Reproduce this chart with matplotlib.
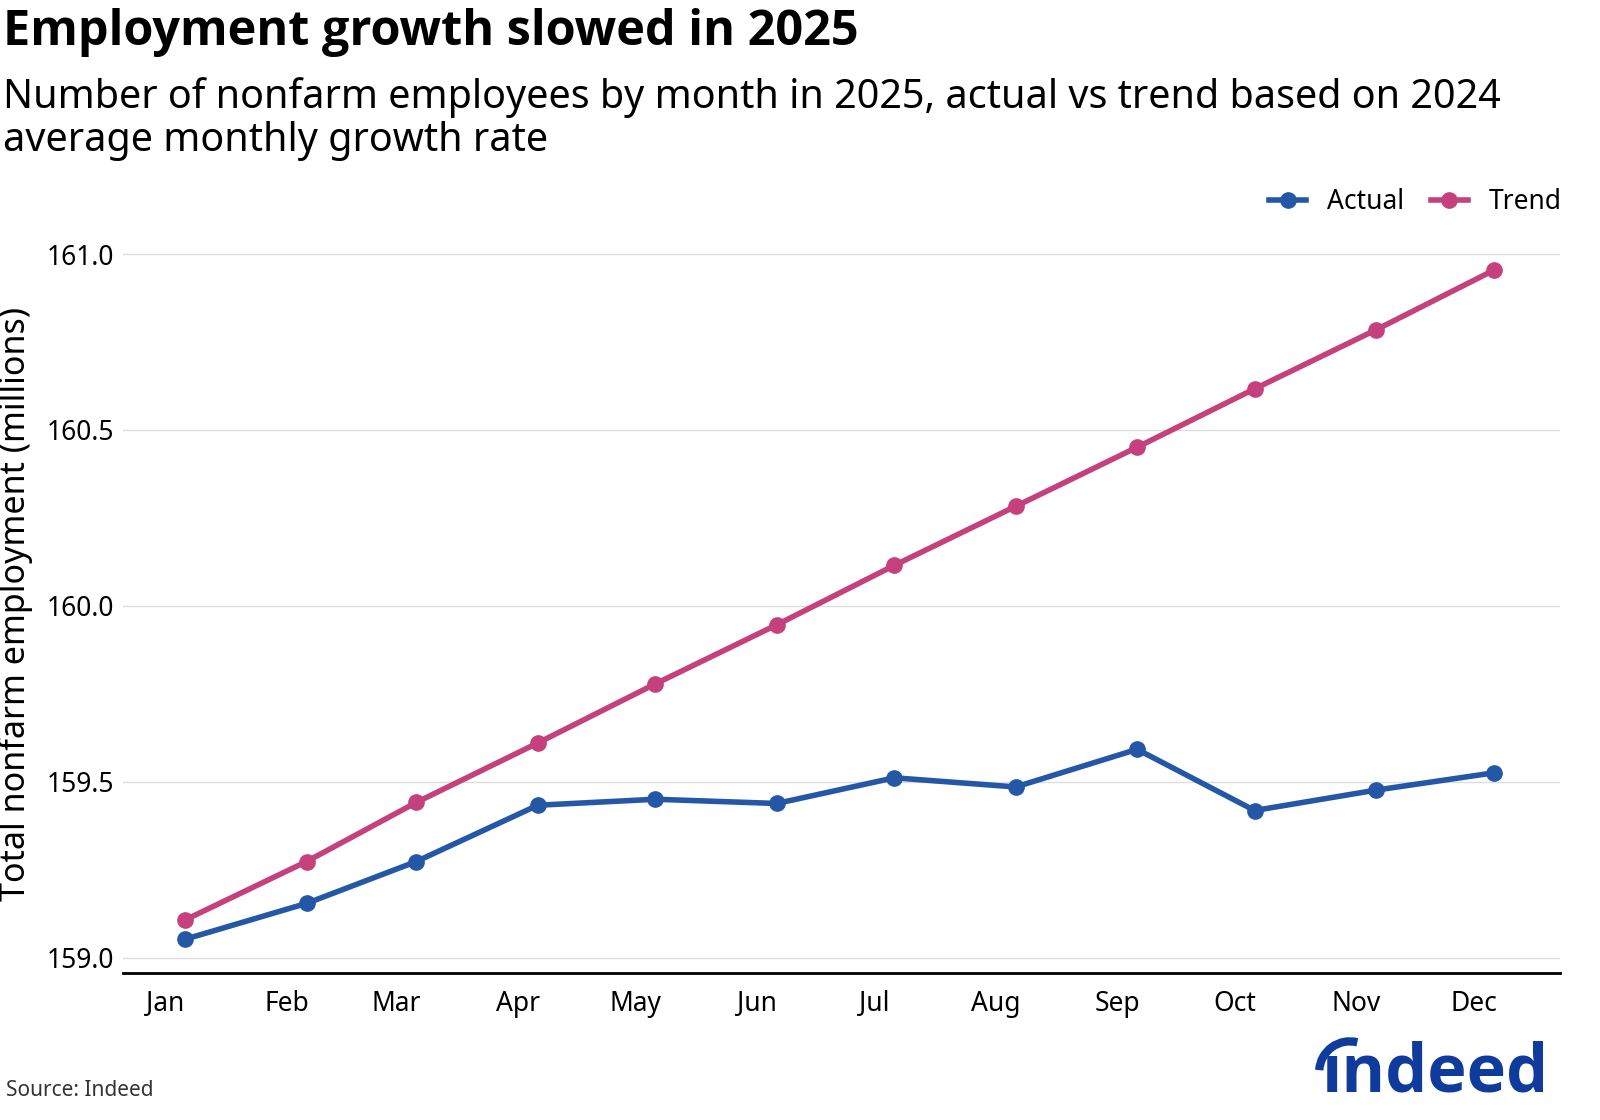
import matplotlib
matplotlib.use("Agg")
import matplotlib.pyplot as plt
import numpy as np
from matplotlib.patches import Arc

plt.rcParams['font.family'] = ['Noto Sans', 'DejaVu Sans']

months = ["Jan","Feb","Mar","Apr","May","Jun","Jul","Aug","Sep","Oct","Nov","Dec"]
actual = [159.052,159.154,159.273,159.433,159.450,159.438,159.511,159.485,159.592,159.418,159.476,159.525]
trend = [159.107,159.273,159.441,159.610,159.778,159.946,160.115,160.283,160.451,160.617,160.785,160.954]

pts = [np.datetime64(f"2025-{i:02d}-06") for i in range(1,13)]
ticks = [np.datetime64(f"2025-{i:02d}-01") for i in range(1,13)]

W, H = 1567, 1097
fig = plt.figure(figsize=(16,11.2), dpi=100)
ax = fig.add_axes([120/W, 1-953/H, (1528-120)/W, (953-230)/H])
blue = "#2557a7"; pink = "#c4417e"; logo = "#0f3c9c"
ax.plot(pts, actual, color=blue, lw=4, marker='o', ms=11, label="Actual")
ax.plot(pts, trend, color=pink, lw=4, marker='o', ms=11, label="Trend")
ax.set_xlim(np.datetime64("2024-12-21"), np.datetime64("2025-12-23"))
ax.set_ylim(158.956, 161.055)
yt = [159.0,159.5,160.0,160.5,161.0]
ax.set_yticks(yt)
ax.set_yticklabels([f"{v:.1f}" for v in yt])
ax.set_xticks(ticks)
ax.set_xticklabels(months)
ax.grid(axis='y', color='#dddddd', lw=1)
ax.set_axisbelow(True)
for s in ['top','right','left']:
    ax.spines[s].set_visible(False)
ax.spines['bottom'].set_linewidth(2)
ax.tick_params(axis='y', length=0, labelsize=19, pad=6)
ax.tick_params(axis='x', length=0, labelsize=19, pad=12)
ax.set_ylabel("Total nonfarm employment (millions)", fontsize=24.5)
ax.yaxis.set_label_coords(-0.062, 0.5)
ax.legend(loc='lower right', bbox_to_anchor=(1.014, 1.0), ncol=2, frameon=False,
          fontsize=19, handlelength=1.4, columnspacing=1.0, handletextpad=0.8, borderaxespad=0.3)

fig.text(0.002, 1-32/H, "Employment growth slowed in 2025", fontsize=35, family='Open Sans', fontweight='bold', va='center')
fig.text(0.002, 1-96/H, "Number of nonfarm employees by month in 2025, actual vs trend based on 2024", fontsize=28.5, va='center')
fig.text(0.002, 1-138/H, "average monthly growth rate", fontsize=28.5, va='center')
fig.text(0.004, 1-1068/H, "Source: Indeed", fontsize=15, va='center', color='#333333')
fig.text(1517/W, 1-1052/H, "ındeed", fontsize=48, family='Open Sans', fontweight='bold', color=logo, ha='right', va='center')
fig.add_artist(Arc((1322/W, 1-1050/H), 60/W, 60/H, theta1=80, theta2=175,
                   transform=fig.transFigure, color=logo, lw=6))
fig.savefig("out.png", dpi=100)
